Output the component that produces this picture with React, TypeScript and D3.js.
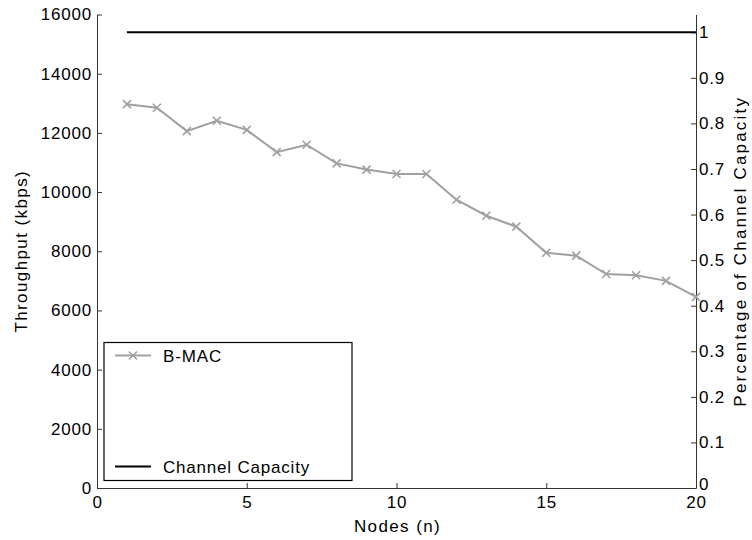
import { useEffect, useRef } from "react";
import * as d3 from "d3";

const NODES = [1, 2, 3, 4, 5, 6, 7, 8, 9, 10, 11, 12, 13, 14, 15, 16, 17, 18, 19, 20];
const BMAC = [12970, 12850, 12060, 12410, 12100, 11350, 11600, 10970, 10760, 10610, 10610, 9740, 9200, 8830, 7950, 7850, 7230, 7190, 7000, 6460];
const CAPACITY = 15400;
const LEFT_TICKS = [0, 2000, 4000, 6000, 8000, 10000, 12000, 14000, 16000];
const RIGHT_TICKS = [0, 0.1, 0.2, 0.3, 0.4, 0.5, 0.6, 0.7, 0.8, 0.9, 1];
const X_TICKS = [0, 5, 10, 15, 20];

const W = 752;
const H = 540;
const M = { top: 14.5, right: 56, bottom: 52, left: 97 };
const FONT = "'Liberation Sans', Arial, sans-serif";
const GRAY = "#a0a0a0";

export default function App() {
  const ref = useRef<SVGSVGElement>(null);

  useEffect(() => {
    const svg = d3.select(ref.current);
    svg.selectAll("*").remove();

    const x = d3.scaleLinear().domain([0, 20]).range([M.left, W - M.right]);
    const y = d3.scaleLinear().domain([0, 16000]).range([H - M.bottom, M.top]);
    const yR = d3.scaleLinear().domain([0, 16000 / CAPACITY]).range([H - M.bottom, M.top]);

    svg.append("rect").attr("width", W).attr("height", H).attr("fill", "white");

    // 軸
    const axisStyle = (g: any) => {
      g.selectAll("path").attr("stroke", "#333").attr("stroke-width", 1);
      g.selectAll("line").attr("stroke", "#333");
      g.selectAll("text")
        .attr("font-family", FONT).attr("font-size", 17)
        .attr("letter-spacing", 0.8).attr("fill", "#000");
    };

    svg.append("g")
      .attr("transform", `translate(0,${H - M.bottom})`)
      .call(d3.axisBottom(x).tickValues(X_TICKS).tickSize(-5).tickSizeOuter(0).tickPadding(8).tickFormat(d3.format("d")))
      .call(axisStyle);

    svg.append("g")
      .attr("transform", `translate(${M.left},0)`)
      .call(d3.axisLeft(y).tickValues(LEFT_TICKS).tickSize(-5).tickSizeOuter(0).tickPadding(5).tickFormat(d3.format("d")))
      .call(axisStyle);

    const right = svg.append("g")
      .attr("transform", `translate(${W - M.right},0)`)
      .call(d3.axisRight(yR).tickValues(RIGHT_TICKS).tickSize(-5).tickSizeOuter(0).tickPadding(3).tickFormat((d: any) => String(+d.toFixed(1))))
      .call(axisStyle);
    // 右軸の「0」は x 軸の「20」と重ならないよう少し上へ
    right.selectAll(".tick text").filter((d: any) => d === 0).attr("dy", "0.1em");

    // 軸ラベル
    const label = (t: string, transform: string, ls: number) =>
      svg.append("text")
        .attr("transform", transform)
        .attr("text-anchor", "middle")
        .attr("font-family", FONT).attr("font-size", 17)
        .attr("letter-spacing", ls)
        .text(t);

    label("Nodes (n)", `translate(${(M.left + W - M.right) / 2 + 1},${H - 8})`, 1.4);
    label("Throughput (kbps)", `translate(27,${(M.top + H - M.bottom) / 2}) rotate(-90)`, 1.4);
    label("Percentage of Channel Capacity", `translate(746,${(M.top + H - M.bottom) / 2}) rotate(-90)`, 2.2);

    // Channel capacity
    svg.append("line")
      .attr("x1", x(NODES[0])).attr("x2", x(NODES[NODES.length - 1]))
      .attr("y1", y(CAPACITY)).attr("y2", y(CAPACITY))
      .attr("stroke", "#000").attr("stroke-width", 2);

    // B-MAC
    const line = d3.line<number>().x((_, i) => x(NODES[i])).y((d) => y(d));
    svg.append("path")
      .attr("d", line(BMAC))
      .attr("fill", "none").attr("stroke", GRAY).attr("stroke-width", 2);

    const cross = (g: any, cx: number, cy: number) => {
      const s = 4;
      g.append("path")
        .attr("d", `M${cx - s},${cy - s}L${cx + s},${cy + s}M${cx - s},${cy + s}L${cx + s},${cy - s}`)
        .attr("stroke", GRAY).attr("stroke-width", 1.6);
    };
    BMAC.forEach((v, i) => cross(svg, x(NODES[i]), y(v)));

    // 凡例
    const lg = svg.append("g");
    lg.append("rect")
      .attr("x", 104).attr("y", 342.5).attr("width", 248).attr("height", 138)
      .attr("fill", "white").attr("stroke", "#000").attr("stroke-width", 1.2);
    lg.append("line").attr("x1", 115).attr("x2", 151).attr("y1", 355.5).attr("y2", 355.5)
      .attr("stroke", GRAY).attr("stroke-width", 2);
    cross(lg, 133, 355.5);
    lg.append("text").attr("x", 163).attr("y", 361.5)
      .attr("font-family", FONT).attr("font-size", 17).attr("letter-spacing", 0.9).text("B-MAC");
    lg.append("line").attr("x1", 115).attr("x2", 151).attr("y1", 466.5).attr("y2", 466.5)
      .attr("stroke", "#000").attr("stroke-width", 2);
    lg.append("text").attr("x", 163).attr("y", 472.5)
      .attr("font-family", FONT).attr("font-size", 17).attr("letter-spacing", 0.8).text("Channel Capacity");
  }, []);

  return (
    <svg
      ref={ref}
      width={W}
      height={H}
      style={{ position: "absolute", left: 0, top: 0 }}
    />
  );
}
